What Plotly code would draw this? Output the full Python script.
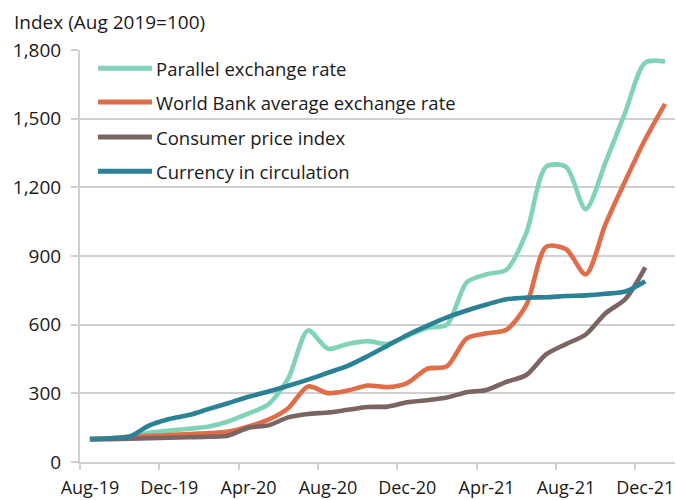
import plotly.graph_objects as go

months = ["Aug-19", "Sep-19", "Oct-19", "Nov-19", "Dec-19", "Jan-20", "Feb-20", "Mar-20",
          "Apr-20", "May-20", "Jun-20", "Jul-20", "Aug-20", "Sep-20", "Oct-20", "Nov-20",
          "Dec-20", "Jan-21", "Feb-21", "Mar-21", "Apr-21", "May-21", "Jun-21", "Jul-21",
          "Aug-21", "Sep-21", "Oct-21", "Nov-21", "Dec-21", "Jan-22"]

parallel = [100, 103, 112, 128, 137, 145, 155, 178, 212, 252, 365, 575, 495, 516, 528, 516,
            550, 585, 600, 785, 820, 840, 1000, 1290, 1290, 1105, 1310, 1530, 1745, 1750]
world_bank = [100, 103, 110, 114, 118, 122, 126, 133, 155, 185, 235, 330, 301, 312, 334, 327,
              345, 407, 418, 540, 562, 578, 685, 940, 930, 820, 1040, 1230, 1410, 1565]
cpi = [100, 100, 102, 104, 106, 108, 110, 116, 150, 160, 195, 210, 216, 228, 240, 242,
       261, 270, 282, 305, 315, 350, 380, 470, 515, 557, 650, 712, 850]
currency = [100, 104, 111, 160, 188, 205, 232, 258, 285, 308, 333, 360, 390, 420, 462, 508,
            555, 595, 632, 662, 688, 711, 718, 720, 725, 728, 735, 745, 790]

tick_labels = ["Aug-19", "Dec-19", "Apr-20", "Aug-20", "Dec-20", "Apr-21", "Aug-21", "Dec-21"]
y_ticks = [0, 300, 600, 900, 1200, 1500, 1800]

series = [
    ("Parallel exchange rate", parallel, "#80D3BA"),
    ("World Bank average exchange rate", world_bank, "#E06D48"),
    ("Consumer price index", cpi, "#7B6462"),
    ("Currency in circulation", currency, "#2B8195"),
]

FONT = "Open Sans, sans-serif"
FS = 19
GRID = "#D0D0D0"

fig = go.Figure()
for name, vals, color in series:
    fig.add_trace(go.Scatter(
        x=months[:len(vals)], y=vals, mode="lines", name=name,
        line=dict(color=color, width=4.6, shape="spline", smoothing=0.8),
        showlegend=False, hoverinfo="skip"))

# helper (empty) trace so the boundary-tick axis is drawn
fig.add_trace(go.Scatter(x=[], y=[], xaxis="x2", showlegend=False, hoverinfo="skip"))

# manual legend
leg_y = [0.956, 0.8736, 0.7886, 0.706]
for (name, vals, color), ly in zip(series, leg_y):
    fig.add_shape(type="line", xref="paper", yref="paper", x0=0.0303, x1=0.121, y0=ly, y1=ly,
                  line=dict(color=color, width=5))
    fig.add_annotation(xref="paper", yref="paper", x=0.1250, y=ly, text=name, showarrow=False,
                       xanchor="left", yanchor="middle",
                       font=dict(size=18.5, color="#1a1a1a", family=FONT))

fig.add_annotation(xref="paper", yref="paper", x=-0.1143, y=1.068, text="Index (Aug 2019=100)",
                   showarrow=False, xanchor="left", yanchor="middle",
                   font=dict(size=FS, color="#1a1a1a", family=FONT))

n = len(months)
boundaries = [i - 0.5 for i in range(0, n - 1, 4)]

fig.update_layout(
    width=676, height=500,
    margin=dict(l=80, r=1, t=50, b=38),
    paper_bgcolor="white", plot_bgcolor="white",
    font=dict(family=FONT, size=FS, color="#1a1a1a"),
    showlegend=False,
    xaxis=dict(type="category", categoryorder="array", categoryarray=months,
               range=[-0.5, n - 0.5], tickvals=tick_labels, ticktext=tick_labels,
               ticks="outside", ticklen=7, tickcolor="rgba(0,0,0,0)",
               showgrid=False, showline=True, linecolor=GRID, linewidth=2,
               zeroline=False, tickfont=dict(size=18), ticklabelstandoff=1, tickangle=0,
               automargin=False),
    xaxis2=dict(type="linear", overlaying="x", side="bottom", range=[-0.5, n - 0.5],
                tickvals=boundaries, ticks="outside", ticklen=7, tickwidth=2, tickcolor=GRID,
                showticklabels=False, showgrid=False, showline=False, zeroline=False,
                automargin=False, anchor="y"),
    yaxis=dict(range=[0, 1800], tickvals=y_ticks, tickformat=",", ticks="outside", ticklen=7,
               tickwidth=2, tickcolor=GRID, showgrid=True, gridcolor=GRID, gridwidth=2,
               showline=True, linecolor=GRID, linewidth=2, zeroline=False,
               tickfont=dict(size=FS), ticklabelstandoff=6, automargin=False),
)

fig.write_html("out.html", config={"displayModeBar": False},
               post_script="document.body.style.margin='0';document.body.style.overflow='hidden';")
